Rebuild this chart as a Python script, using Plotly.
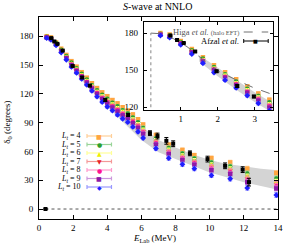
import plotly.graph_objects as go

# ---------------- data ----------------
E_lat = [0.45, 0.7, 1.0, 1.3, 1.6, 1.9, 2.2, 2.5, 2.8, 3.1, 3.4, 3.7, 4.0, 4.3,
         4.6, 4.9, 5.2, 5.5, 5.8, 6.1, 6.85, 7.6, 8.4, 9.1, 10.1, 11.2, 12.2, 13.9]
d_L4 = [180, 178.8, 173.5, 167, 160.5, 154, 148.3, 142.5, 136.8, 131, 126, 121.5, 117.5, 113.5,
        110, 106, 102.5, 98.5, 93.5, 88, 77, 67, 61.5, 56, 53, 48.5, 42, 37.5]
d_L5 = [179.5, 178.1, 172.8, 166, 159.3, 152.5, 146.6, 140.8, 134.9, 129, 123.8, 119, 114.8, 110.8,
        107, 103, 99.5, 95.3, 90.3, 84.5, 73.5, 63.5, 57.8, 52.5, 48.5, 44.3, 37, 31.8]
d_L6 = [179.2, 177.8, 172.3, 165.4, 158.5, 151.6, 145.7, 139.7, 133.8, 127.8, 122.4, 117.5, 113.1, 109.1,
        105.2, 101.2, 97.7, 93.3, 88.3, 82.4, 71.4, 61.4, 55.5, 50.4, 45.8, 41.7, 34, 28.3]
d_L7 = [179, 177.5, 172, 165, 158, 151, 145, 139, 133, 127, 121.5, 116.5, 112, 108,
        104, 100, 96.5, 92, 87, 81, 70, 60, 54, 49, 44, 40, 32, 26]
d_L8 = [178.8, 177.3, 171.7, 164.6, 157.5, 150.4, 144.4, 138.3, 132.3, 126.2, 120.6, 115.5, 110.9, 106.9,
        102.8, 98.8, 95.3, 90.7, 85.7, 79.6, 68.6, 58.6, 52.5, 47.6, 42.2, 38.3, 30, 23.7]
d_L9 = [178.6, 177, 171.4, 164.2, 157, 149.8, 143.7, 137.6, 131.5, 125.4, 119.7, 114.5, 109.8, 105.8,
        101.6, 97.6, 94.1, 89.4, 84.4, 78.2, 67.2, 57.2, 51, 46.2, 40.4, 36.6, 28, 21.4]
d_L10 = [178, 176.3, 170.5, 163, 155.5, 148, 141.8, 135.5, 129.3, 123, 117, 111.5, 106.5, 102.5,
         98, 94, 90.5, 85.5, 80.5, 74, 63, 53, 46.5, 42, 35, 31.5, 22, 14.5]
err_lat = [0.5, 0.5, 0.6, 0.7, 0.8, 0.9, 1.0, 1.0, 1.1, 1.2, 1.2, 1.3, 1.4, 1.4,
           1.5, 1.5, 1.6, 1.6, 1.7, 1.8, 2.0, 2.0, 2.0, 2.0, 2.2, 2.2, 2.4, 2.5]

labels_L = ["4", "5", "6", "7", "8", "9", "10"]

E_afzal = [0.38, 0.72, 0.9, 1.08, 1.39, 1.97, 2.53, 2.98, 3.88, 5.22, 6.5, 6.94, 7.46,
           7.86, 8.84, 9.87, 10.9, 11.93, 12.3]
d_afzal = [0, 178, 174.5, 172, 165, 149, 137, 128.5, 113.5, 98, 79, 76, 71,
           68, 58, 52, 45, 41, 28]
err_afzal = [0.5, 0.5, 0.5, 0.5, 0.6, 0.8, 1.0, 1.0, 1.5, 1.5, 2.5, 3.0, 3.5,
             3.0, 2.5, 3.0, 3.0, 3.0, 4.0]

E_higa = [0.19, 0.45, 0.8, 1.17, 1.62, 2.05, 2.51, 2.95, 3.5]
d_higa = [180, 179.5, 175.5, 169, 158, 148.6, 141.9, 136, 130]
E_res = 0.19

E_band = [1.5, 2.0, 2.5, 3.0, 3.5, 4.0, 5.0, 6.0, 7.0, 8.0, 9.0, 10.0, 11.0, 12.0, 13.0, 14.0]
band_lo = [157, 145, 134, 124, 115, 107, 89, 72, 59, 52, 45, 38, 33, 28, 24, 20]
band_hi = [162, 152, 142, 132, 123, 116, 101, 86, 72, 64, 57, 51, 47, 44.5, 42, 40.5]

main_xticks = [0, 2, 4, 6, 8, 10, 12, 14]
main_yticks = [0, 30, 60, 90, 120, 150, 180]
inset_xticks = [1, 2, 3]
inset_yticks = [120, 150, 180]

# ---------------- styles ----------------
cols = ["#FFA540", "#2CA02C", "#EEEE00", "#E8202A", "#FF1493", "#8E1AA8", "#1F1FFF"]
light = ["#FFCF98", "#98D498", "#FFFF98", "#F49898", "#FF98CC", "#CC98DC", "#9898FF"]
syms = ["square", "circle", "triangle-up", "triangle-down", "circle", "square", "diamond"]
glyphs = ["■", "●", "▲", "▼", "●", "■", "◆"]
series = [d_L4, d_L5, d_L6, d_L7, d_L8, d_L9, d_L10]
FONT = "Liberation Serif"

fig = go.Figure()

for xa, ya in (("x", "y"), ("x2", "y2")):
    fig.add_trace(go.Scatter(x=E_band + E_band[::-1], y=band_hi + band_lo[::-1],
                             fill="toself", fillcolor="#D4D4D4", line=dict(width=0),
                             mode="lines", hoverinfo="skip", xaxis=xa, yaxis=ya))
    for d, c, lc, s in zip(series, cols, light, syms):
        fig.add_trace(go.Scatter(x=E_lat, y=d, mode="markers", xaxis=xa, yaxis=ya,
                                 marker=dict(color=c, size=4.5, symbol=s, line=dict(width=0)),
                                 error_y=dict(type="data", array=err_lat, color=lc,
                                              thickness=1.2, width=2)))
    if xa == "x2":
        fig.add_trace(go.Scatter(x=E_higa, y=d_higa, mode="lines", xaxis=xa, yaxis=ya,
                                 line=dict(color="#707070", width=1, dash="dash")))
    fig.add_trace(go.Scatter(x=E_afzal, y=d_afzal, mode="markers", xaxis=xa, yaxis=ya,
                             marker=dict(color="black", size=4, symbol="square"),
                             error_y=dict(type="data", array=err_afzal, color="black",
                                          thickness=1, width=2)))

# zero line in main plot and resonance line in inset
fig.add_shape(type="line", xref="x", yref="y", x0=E_afzal[0], x1=14, y0=0, y1=0,
              line=dict(color="#555555", width=1, dash="dot"), layer="below")
fig.add_shape(type="line", xref="x2", yref="y2", x0=E_res, x1=E_res, y0=110, y1=180,
              line=dict(color="#999999", width=1.2, dash="dot"))

ax_common = dict(showline=True, linecolor="black", linewidth=1, mirror="allticks",
                 ticks="inside", tickcolor="black", showgrid=False, zeroline=False,
                 tickfont=dict(family=FONT, size=9, color="black"))

fig.update_layout(
    width=289, height=245,
    margin=dict(l=39, r=6, t=17, b=26),
    paper_bgcolor="white", plot_bgcolor="white",
    showlegend=False,
    xaxis=dict(domain=[0, 1], range=[0, 14], tickvals=main_xticks, ticklen=4,
               anchor="y", **ax_common),
    yaxis=dict(domain=[0, 1], range=[-10.4, 200], tickvals=main_yticks, ticklen=4,
               anchor="x", ticklabelstandoff=3, **ax_common),
    xaxis2=dict(domain=[0.4385, 0.9795], range=[0, 3.5], tickvals=inset_xticks, ticklen=3,
                anchor="y2", **ax_common),
    yaxis2=dict(domain=[0.5396, 0.9752], range=[117.6, 189], tickvals=inset_yticks, ticklen=3,
                anchor="x2", ticklabelstandoff=3, **ax_common),
)

def px_x(px):
    return (px - 39) / 244.0

def px_y(py):
    return (219 - py) / 202.0

ann = []
ann.append(dict(text="<i>S</i>-wave at NNLO", x=px_x(160), y=px_y(7), xref="paper", yref="paper",
                xanchor="center", yanchor="middle",
                showarrow=False, font=dict(family=FONT, size=10, color="black")))
ann.append(dict(text="δ<sub>0</sub> (degrees)", x=px_x(6), y=px_y(122), xref="paper", yref="paper",
                xanchor="center", yanchor="middle",
                showarrow=False, textangle=-90, font=dict(family=FONT, size=9, color="black")))
ann.append(dict(text="<i>E</i><sub>Lab</sub> (MeV)", x=px_x(157), y=px_y(238), xref="paper",
                yref="paper", xanchor="center", yanchor="middle",
                showarrow=False, font=dict(family=FONT, size=9, color="black")))

# main legend
for i, (lab, c, lc, g) in enumerate(zip(labels_L, cols, light, glyphs)):
    py = 136 + 8.5 * i
    ann.append(dict(text="<i>L</i><sub><i>t</i></sub> = " + lab, x=px_x(84), y=px_y(py),
                    xref="paper", yref="paper", xanchor="right", yanchor="middle",
                    showarrow=False, font=dict(family=FONT, size=8, color="black")))
    fig.add_shape(type="line", xref="paper", yref="paper", x0=px_x(88), x1=px_x(113),
                  y0=px_y(py), y1=px_y(py), line=dict(color=lc, width=1.2))
    for xe in (88, 113):
        fig.add_shape(type="line", xref="paper", yref="paper", x0=px_x(xe), x1=px_x(xe),
                      y0=px_y(py - 2), y1=px_y(py + 2), line=dict(color=lc, width=1.2))
    ann.append(dict(text=g, x=px_x(100.5), y=px_y(py), xref="paper", yref="paper",
                    xanchor="center", yanchor="middle", showarrow=False,
                    font=dict(family="DejaVu Sans", size=6, color=c)))

# inset legend
ann.append(dict(text='Higa <i>et al.</i> <span style="font-size:6.5px">(halo EFT)</span>',
                x=px_x(245), y=px_y(32), xref="paper", yref="paper", xanchor="right",
                yanchor="middle", showarrow=False, font=dict(family=FONT, size=8.5, color="#555555")))
fig.add_shape(type="line", xref="paper", yref="paper", x0=px_x(248), x1=px_x(273),
              y0=px_y(32), y1=px_y(32), line=dict(color="#707070", width=1, dash="dash"))
ann.append(dict(text="Afzal <i>et al.</i>", x=px_x(245), y=px_y(41), xref="paper", yref="paper",
                xanchor="right", yanchor="middle", showarrow=False,
                font=dict(family=FONT, size=8.5, color="black")))
fig.add_shape(type="line", xref="paper", yref="paper", x0=px_x(248), x1=px_x(273),
              y0=px_y(41), y1=px_y(41), line=dict(color="black", width=1))
for xe in (248, 273):
    fig.add_shape(type="line", xref="paper", yref="paper", x0=px_x(xe), x1=px_x(xe),
                  y0=px_y(39), y1=px_y(43), line=dict(color="black", width=1))
ann.append(dict(text="■", x=px_x(260.5), y=px_y(41), xref="paper", yref="paper",
                xanchor="center", yanchor="middle", showarrow=False,
                font=dict(family="DejaVu Sans", size=5, color="black")))

fig.update_layout(annotations=ann)
fig.write_html("out.html", config={"displayModeBar": False},
               post_script="document.body.style.margin='0';document.body.style.overflow='hidden';")
